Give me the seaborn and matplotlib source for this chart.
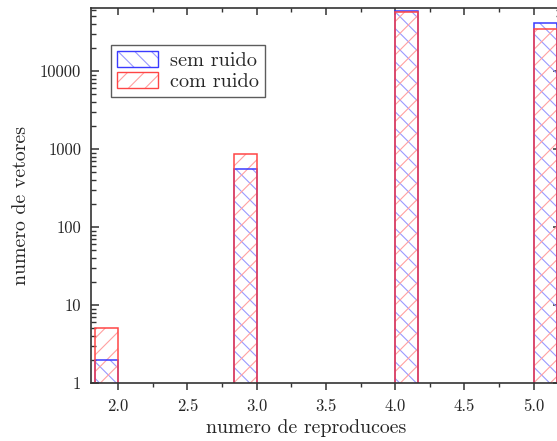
import numpy as np
import matplotlib
matplotlib.use("Agg")
import matplotlib.pyplot as plt
import matplotlib.patches as mpatches
from matplotlib.legend_handler import HandlerTuple
from matplotlib.ticker import FixedLocator, FixedFormatter, MultipleLocator, LogLocator, NullFormatter
import seaborn as sns

# data
reproducoes = [2, 3, 4, 5]
sem_ruido = [2, 560, 59000, 41600]
com_ruido = [5, 850, 57000, 34300]
bar_side = [-1, -1, 1, 1]   # which side of the value the histogram bin lies
series_labels = ["sem ruido", "com ruido"]
ytick_vals = [1, 10, 100, 1000, 10000]
ytick_labels = ["1", "10", "100", "1000", "10000"]
xtick_vals = [2.0, 2.5, 3.0, 3.5, 4.0, 4.5, 5.0]
xtick_labels = ["2.0", "2.5", "3.0", "3.5", "4.0", "4.5", "5.0"]

sns.set_style("ticks")
plt.rcParams["font.family"] = ["cmr10", "DejaVu Serif"]
plt.rcParams["axes.formatter.use_mathtext"] = True
plt.rcParams["hatch.linewidth"] = 0.8

fig = plt.figure(figsize=(5.57, 4.41), dpi=100)
ax = fig.add_axes([0.1634, 0.1315, 0.8446, 0.8505])

bw = 1 / 6
widths = [bw * s for s in bar_side]
blue_edge = "#3a3aff"
blue_hatch = "#9a9aff"
red_edge = "#ff4545"
red_hatch = "#ffa0a0"

# hatch fills
ax.bar(reproducoes, sem_ruido, width=widths, align="edge",
       facecolor="none", edgecolor=blue_hatch, hatch="\\\\", linewidth=0)
ax.bar(reproducoes, com_ruido, width=widths, align="edge",
       facecolor="none", edgecolor=red_hatch, hatch="//", linewidth=0)
# outlines
ax.bar(reproducoes, sem_ruido, width=widths, align="edge",
       facecolor="none", edgecolor=blue_edge, linewidth=1.1)
ax.bar(reproducoes, com_ruido, width=widths, align="edge",
       facecolor="none", edgecolor=red_edge, linewidth=1.1)

ax.set_yscale("log")
ax.set_ylim(1, 64300)
ax.set_xlim(1.805, 5.2)

ax.yaxis.set_major_locator(FixedLocator(ytick_vals))
ax.yaxis.set_major_formatter(FixedFormatter(ytick_labels))
ax.yaxis.set_minor_locator(LogLocator(base=10, subs=np.arange(2, 10)))
ax.yaxis.set_minor_formatter(NullFormatter())
ax.xaxis.set_major_locator(FixedLocator(xtick_vals))
ax.xaxis.set_major_formatter(FixedFormatter(xtick_labels))
ax.xaxis.set_minor_locator(MultipleLocator(0.25))

spine_c = "#333333"
for sp in ax.spines.values():
    sp.set_visible(True)
    sp.set_color(spine_c)
    sp.set_linewidth(1.2)

ax.tick_params(axis="x", which="both", bottom=True, top=True, direction="out",
               color=spine_c, labelsize=12, pad=6)
ax.tick_params(axis="x", which="major", length=5, width=1.1)
ax.tick_params(axis="x", which="minor", length=3, width=1.0)
ax.tick_params(axis="y", which="both", left=True, right=True, direction="in",
               color=spine_c, labelsize=12, pad=7)
ax.tick_params(axis="y", which="major", length=6, width=1.1)
ax.tick_params(axis="y", which="minor", length=3.5, width=1.0)
# top ticks point into the plot
for t in ax.xaxis.get_major_ticks() + ax.xaxis.get_minor_ticks():
    t.tick2line.set_marker(3)

ax.set_xlabel("numero de reproducoes", fontsize=14.3)
ax.set_ylabel("numero de vetores", fontsize=14.3)
ax.xaxis.set_label_coords(0.457, -0.097)
ax.yaxis.set_label_coords(-0.13, 0.472)

handles = [
    (mpatches.Patch(facecolor="none", edgecolor=blue_hatch, hatch="\\\\", linewidth=0),
     mpatches.Patch(facecolor="none", edgecolor=blue_edge, linewidth=1.0)),
    (mpatches.Patch(facecolor="none", edgecolor=red_hatch, hatch="//", linewidth=0),
     mpatches.Patch(facecolor="none", edgecolor=red_edge, linewidth=1.0)),
]
leg = ax.legend(handles, series_labels, loc="upper left", bbox_to_anchor=(0.0426, 0.901),
                handler_map={tuple: HandlerTuple(ndivide=1, pad=0)},
                fontsize=14.6, frameon=True, fancybox=False, edgecolor="#333333",
                handlelength=2.0, handleheight=0.8, borderpad=0.3, labelspacing=0.12,
                handletextpad=0.6, borderaxespad=0)
leg.get_frame().set_linewidth(1.0)

fig.savefig("out.png", dpi=100)
